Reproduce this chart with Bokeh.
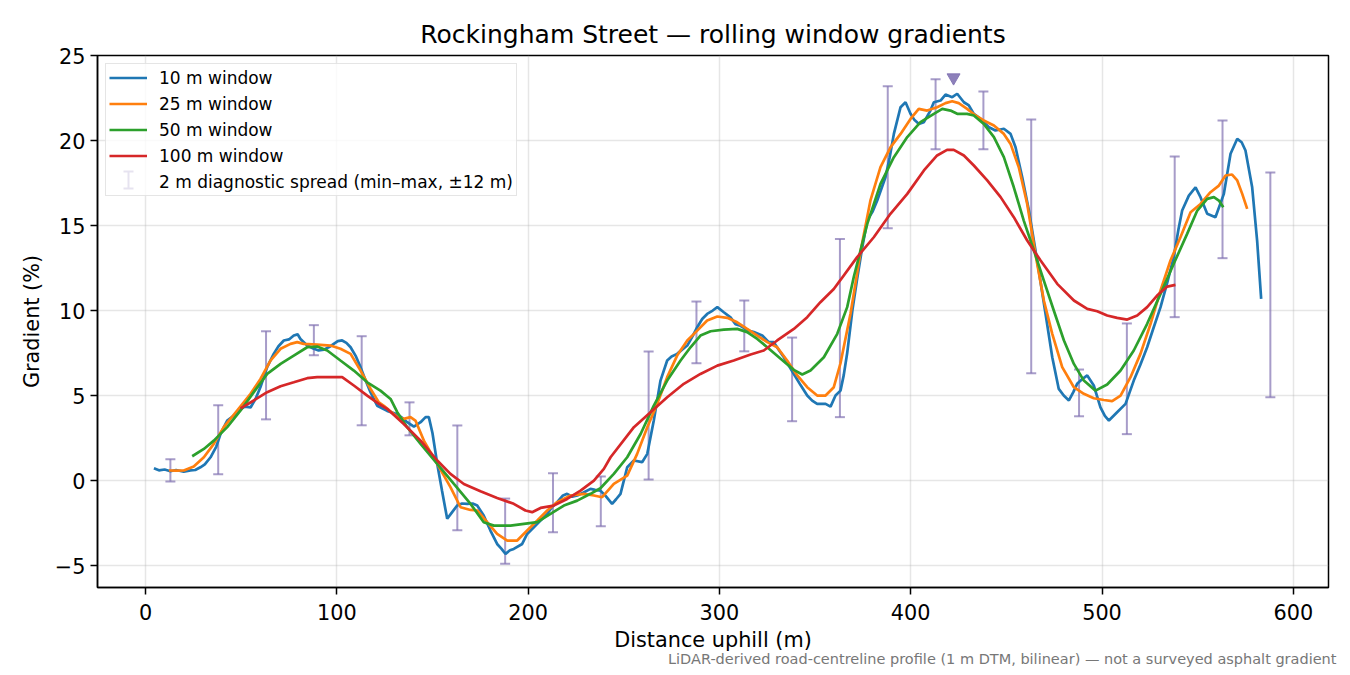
'''
Rolling window gradients for Rockingham Street, drawn with Bokeh.
'''
from bokeh.plotting import figure
from bokeh.models import (Legend, LegendItem, Title, FixedTicker, Whisker, TeeHead,
	ColumnDataSource)
from bokeh.embed import file_html
from bokeh.resources import INLINE

FONT = "DejaVu Sans"

# 10 m window (distance m, gradient %)
w10_x = [4.4, 7, 10, 13, 16, 20, 23.5, 26, 28.7, 31, 34, 37, 39.2, 42.7, 46.2, 49.7, 52, 54.9, 57.5,
         60.1, 63.6, 67, 69.5, 72.3, 75, 77.5, 79.5, 81, 84.5, 88, 90.5, 93.2, 96, 98.4, 100.5, 102.8,
         105, 107.2, 110, 112.4, 115, 117.6, 121.1, 126.3, 131.6, 134, 136.8, 140.3, 143.8, 146.4,
         148.1, 150, 152.5, 155, 157.7, 160, 162.9, 165.5, 168.2, 171, 173.4, 176.8, 180.3, 183.8,
         186, 188.2, 190.5, 192.5, 196.9, 199.5, 204.8, 210, 212.5, 215.2, 218, 220.4, 223, 225.7,
         229, 232.6, 235, 237.8, 240.5, 243.9, 246, 248.3, 251.8, 255.3, 259.6, 262.3, 265.7, 269.2,
         272.7, 275, 277.9, 280.5, 283.2, 286, 288.4, 291, 293.6, 296.5, 298.9, 302.3, 305.8, 308.4,
         311, 313.6, 316, 318, 322.4, 325.8, 328.4, 331, 333.7, 338.9, 342.5, 345.9, 348.5, 351.1,
         355.5, 358.1, 360.7, 363.3, 365, 366.8, 369.5, 372, 374.5, 377.3, 380, 382.5, 386.8, 389,
         391.2, 394.7, 397.3, 399.9, 402, 404.2, 406.9, 410.3, 412.1, 415.6, 418.2, 421.7, 424.3,
         427.8, 430.4, 433, 436.5, 440.9, 444.3, 448.7, 452.2, 454.8, 458.3, 461.8, 466.1, 470.5,
         474, 477.4, 480, 482.7, 485, 487, 490, 492.3, 495.7, 499.2, 501.5, 503.6, 507.9, 512.3,
         516.6, 520, 523.6, 527, 530.6, 534, 537.5, 540, 541.9, 545.4, 548.9, 551.5, 555, 559.3,
         563.7, 567.2, 570.7, 573, 575, 578.5, 581.1, 583.2]
w10_y = [0.72, 0.6, 0.65, 0.55, 0.62, 0.52, 0.6, 0.62, 0.78, 0.95, 1.37, 2.0, 2.74, 3.53, 3.82, 4.2,
         4.35, 4.3, 4.8, 5.5, 6.67, 7.45, 7.9, 8.24, 8.3, 8.53, 8.6, 8.33, 7.94, 7.75, 7.65, 7.7,
         7.85, 8.04, 8.2, 8.24, 8.1, 7.84, 7.3, 6.67, 5.9, 5.2, 4.4, 4.1, 3.9, 3.7, 3.43, 3.17, 3.43,
         3.73, 3.73, 2.8, 0.98, -0.6, -2.25, -1.9, -1.47, -1.35, -1.37, -1.35, -1.47, -2.06, -2.94,
         -3.73, -4.0, -4.31, -4.1, -4.02, -3.73, -3.14, -2.55, -1.96, -1.55, -1.27, -0.9, -0.78,
         -0.95, -0.88, -0.7, -0.49, -0.55, -0.59, -0.9, -1.37, -1.1, -0.78, 0.78, 1.18, 1.08, 1.57,
         3.53, 5.88, 7.06, 7.3, 7.45, 7.7, 7.94, 8.5, 9.02, 9.5, 9.8, 10.0, 10.2, 9.9, 9.6, 9.2, 9.1,
         8.92, 8.8, 8.73, 8.53, 8.14, 8.14, 7.7, 7.25, 6.27, 5.6, 5.0, 4.7, 4.51, 4.51, 4.35, 5.0,
         5.29, 6.2, 7.5, 10.0, 11.86, 13.6, 15.3, 15.8, 16.47, 17.84, 19.0, 20.39, 21.96, 22.25,
         21.57, 21.2, 20.98, 21.08, 21.76, 22.25, 22.35, 22.7, 22.55, 22.75, 22.25, 22.06, 21.57,
         21.27, 20.78, 20.59, 20.69, 20.39, 19.6, 17.84, 15.88, 12.94, 9.8, 7.25, 5.39, 5.0, 4.71,
         5.2, 5.69, 6.0, 6.18, 5.59, 4.31, 3.8, 3.53, 4.02, 4.51, 5.88, 6.8, 7.84, 9.0, 10.2, 11.6,
         13.14, 14.8, 15.88, 16.76, 17.25, 16.67, 15.69, 15.49, 16.86, 19.22, 20.1, 19.9, 19.41,
         17.25, 14.1, 10.69]

# 25 m window
w25_x = [12.2, 16, 20, 25.2, 30.5, 35.7, 40.9, 47.9, 54.9, 60.1, 65.3, 70.6, 75.8, 79.3, 82.7, 89.7,
         96.7, 101.9, 107.2, 112.4, 117.6, 122, 124.6, 131.6, 135, 138.5, 141.1, 145.5, 152.5, 159.4,
         164.7, 169.9, 173.4, 178.6, 183.8, 189.1, 194.3, 199.5, 204.8, 210, 215.2, 222.2, 229.1,
         234.4, 238.7, 244.8, 251.8, 257, 262.3, 267.5, 272.7, 277.9, 283.2, 288.4, 293.6, 298.9,
         304.1, 309.3, 314.5, 319.8, 325, 330.2, 335.4, 340.7, 345.9, 351.1, 355.5, 359.8, 363.3,
         368.5, 371, 374, 379, 384.2, 389.4, 394.7, 399.9, 404.2, 408.6, 413.8, 418.2, 421.7, 425.1,
         429.5, 433.9, 438.2, 443.5, 448.7, 452.2, 456.5, 460.9, 465.2, 469.6, 474, 479.2, 485.3,
         490.5, 495.7, 501, 505.3, 509.7, 514.9, 520.1, 525.4, 530.6, 535.8, 541, 546.3, 551.5,
         556.7, 561.1, 564.6, 568, 570.7, 573.3, 575.9]
w25_y = [0.59, 0.58, 0.59, 0.82, 1.37, 2.16, 3.14, 4.12, 5.1, 5.98, 7.06, 7.75, 8.04, 8.14, 8.04, 8.0,
         7.94, 7.75, 7.45, 6.47, 5.4, 4.6, 4.4, 3.73, 3.63, 3.73, 3.53, 2.35, 0.98, -0.39, -1.57,
         -1.73, -1.76, -2.45, -3.14, -3.53, -3.53, -2.94, -2.35, -1.76, -1.27, -0.88, -0.78, -0.88,
         -0.98, -0.2, 0.29, 1.57, 3.14, 4.51, 6.08, 7.35, 8.24, 8.82, 9.41, 9.65, 9.57, 9.31, 8.92,
         8.53, 8.14, 7.84, 7.06, 6.18, 5.49, 5.0, 5.0, 5.49, 6.9, 9.8, 11.5, 13.6, 16.5, 18.43,
         19.6, 20.39, 21.27, 21.86, 21.76, 21.96, 22.2, 22.31, 22.2, 21.86, 21.47, 21.18, 20.88,
         20.39, 19.8, 18.43, 16.27, 13.33, 10.59, 8.63, 6.67, 5.49, 5.1, 4.84, 4.74, 4.67, 5.0,
         6.08, 7.45, 9.22, 11.18, 12.94, 14.31, 15.78, 16.27, 16.96, 17.35, 17.94, 18.0, 17.65,
         16.86, 15.98]

# 50 m window
w50_x = [24.4, 30.5, 35.7, 42.7, 49.7, 56.6, 63.6, 70.6, 77.5, 84.5, 89.7, 95, 101.9, 108.9, 115.9,
         122.8, 128.1, 131.6, 136.8, 143.8, 152.5, 161.2, 169.9, 176.8, 182.1, 190.8, 197.8, 204.8,
         211.7, 218.7, 225.7, 232.6, 237.8, 244.8, 251.8, 258.8, 265.7, 272.7, 279.7, 284.9, 290.1,
         295.4, 302.3, 309.3, 314.5, 319.8, 325, 332, 338.9, 343.3, 347.6, 354.6, 361.6, 366.8,
         370.3, 377.3, 384.2, 391.2, 398.2, 405.1, 412.1, 416.5, 420.8, 424.3, 429.5, 433, 438.2,
         443.5, 448.7, 453.9, 459.1, 464.4, 469.6, 474.8, 480.1, 485.3, 490.5, 496.6, 502.7, 509.7,
         516.6, 523.6, 530.6, 537.5, 544.5, 549.8, 555, 558.5, 561.1, 563.4]
w50_y = [1.43, 1.86, 2.35, 3.14, 4.12, 5.2, 6.27, 6.86, 7.35, 7.84, 7.88, 7.65, 7.06, 6.47, 5.78,
         5.29, 4.8, 4.02, 3.14, 2.16, 0.98, -0.2, -1.37, -2.45, -2.65, -2.65, -2.55, -2.45, -1.96,
         -1.47, -1.18, -0.78, -0.45, 0.39, 1.37, 2.74, 4.41, 5.88, 7.06, 7.84, 8.53, 8.78, 8.88,
         8.92, 8.73, 8.33, 7.84, 7.16, 6.51, 6.24, 6.47, 7.25, 8.63, 10.2, 12.0, 15.1, 17.45, 19.02,
         20.2, 21.08, 21.57, 21.86, 21.76, 21.57, 21.57, 21.47, 20.98, 20.2, 19.02, 17.25, 15.29,
         13.53, 11.76, 10.0, 8.24, 6.86, 5.88, 5.29, 5.65, 6.47, 7.65, 9.22, 10.98, 12.75, 14.51,
         15.88, 16.57, 16.67, 16.47, 16.08]

# 100 m window
w100_x = [49.7, 56.6, 63.6, 70.6, 77.5, 84.5, 89.7, 96.7, 102.8, 108.9, 115.9, 122, 126.3, 135,
          143.8, 152.5, 159.4, 166.4, 175.1, 183.8, 192.5, 198.6, 202.1, 206.5, 213.4, 220.4, 227.4,
          234.4, 239.6, 243.1, 255.3, 264, 272.7, 281.4, 290.1, 298.9, 307.5, 316.3, 323.2, 330.2,
          338.9, 345.9, 352.8, 359.8, 363.3, 372, 380.7, 389.4, 398.2, 406.9, 413.8, 419, 422.5,
          427.8, 433, 440, 447, 453.9, 460.9, 467.9, 476.6, 485.3, 492.3, 497.5, 502.7, 507.9,
          513.2, 518.4, 523.6, 528.8, 534.1, 538.4]
w100_y = [4.25, 4.71, 5.2, 5.55, 5.78, 6.02, 6.08, 6.08, 6.08, 5.59, 5.0, 4.51, 4.22, 3.33, 2.35,
          1.18, 0.39, -0.2, -0.63, -1.02, -1.37, -1.76, -1.86, -1.61, -1.47, -1.08, -0.59, 0.0,
          0.69, 1.37, 3.14, 4.02, 4.9, 5.69, 6.27, 6.76, 7.06, 7.41, 7.65, 8.24, 8.92, 9.61, 10.49,
          11.27, 11.8, 13.14, 14.31, 15.69, 16.86, 18.24, 19.12, 19.45, 19.45, 19.12, 18.53, 17.65,
          16.67, 15.49, 14.12, 12.94, 11.57, 10.59, 10.1, 9.96, 9.71, 9.57, 9.47, 9.71, 10.2,
          10.88, 11.41, 11.51]

# 2 m diagnostic spread (min-max over +-12 m)
spread_x = [13, 38, 63, 88, 113, 138, 163, 188, 213, 238, 263, 288, 313, 338, 363, 388, 413, 438,
            463, 488, 513, 538, 563, 588]
spread_lo = [-0.05, 0.37, 3.6, 7.37, 3.25, 2.66, -2.92, -4.9, -3.04, -2.69, 0.06, 6.9, 7.6, 3.49,
             3.73, 14.84, 19.49, 19.49, 6.31, 3.78, 2.73, 9.61, 13.08, 4.9]
spread_hi = [1.25, 4.43, 8.78, 9.14, 8.49, 4.6, 3.24, -1.06, 0.43, 0.24, 7.59, 10.53, 10.59, 8.41,
             14.2, 23.19, 23.6, 22.88, 21.24, 6.53, 9.24, 19.06, 21.18, 18.12]

# steepest point marker
peak_x = [422.4]
peak_y = [23.7]

x_ticks = [0, 100, 200, 300, 400, 500, 600]
y_ticks = [-5, 0, 5, 10, 15, 20, 25]

SPREAD_COLOR = "#8172b2"
SPREAD_ALPHA = 0.7
LW = 2.7

p = figure(
	width=1342, height=671,
	x_range=(-25.1, 618.4), y_range=(-6.29, 25.0),
	title="Rockingham Street \u2014 rolling window gradients",
	output_backend="svg", toolbar_location=None,
	min_border_left=97, min_border_right=14, min_border_top=55, min_border_bottom=84,
)
p.title.align = "center"
p.title.text_font = FONT
p.title.text_font_size = "25px"
p.title.text_font_style = "normal"
p.title.text_color = "black"
p.title.standoff = 14

p.outline_line_color = "black"
p.outline_line_width = 1.5
p.grid.grid_line_color = "#b0b0b0"
p.grid.grid_line_alpha = 0.32
p.grid.grid_line_width = 1.5

p.xaxis.ticker = FixedTicker(ticks=x_ticks)
p.yaxis.ticker = FixedTicker(ticks=y_ticks)
p.yaxis.major_label_overrides = {-5: "\u22125"}
p.yaxis.axis_label = "Gradient (%)"
for ax in (p.xaxis, p.yaxis):
	ax.axis_label_text_font = FONT
	ax.axis_label_text_font_size = "20.8px"
	ax.axis_label_text_font_style = "normal"
	ax.axis_label_text_color = "black"
	ax.major_label_text_font = FONT
	ax.major_label_text_font_size = "20.8px"
	ax.major_label_text_color = "black"
	ax.axis_line_color = "black"
	ax.axis_line_width = 1.5
	ax.major_tick_line_width = 1.5
	ax.major_tick_out = 7
	ax.major_tick_in = 0
	ax.minor_tick_line_color = None
p.xaxis.major_label_standoff = 9
p.yaxis.major_label_standoff = 5
p.yaxis.axis_label_standoff = 8
# tiny blank x axis label: only adds a few px between tick labels and the title below
p.xaxis.axis_label = " "
p.xaxis.axis_label_text_font_size = "1px"
p.xaxis.axis_label_standoff = 3

# error bars: stem plus caps
p.segment(spread_x, spread_lo, spread_x, spread_hi, line_color=SPREAD_COLOR,
	line_alpha=SPREAD_ALPHA, line_width=2)
p.scatter(spread_x, spread_lo, marker="dash", size=10, line_color=SPREAD_COLOR,
	line_alpha=SPREAD_ALPHA, line_width=2)
p.scatter(spread_x, spread_hi, marker="dash", size=10, line_color=SPREAD_COLOR,
	line_alpha=SPREAD_ALPHA, line_width=2)
# hidden, transparent renderer: only gives the legend entry its label
spread_key = p.scatter(spread_x, spread_hi, marker="dash", size=9, line_alpha=0, fill_alpha=0)
spread_key.visible = False

r10 = p.line(w10_x, w10_y, line_color="#1f77b4", line_width=LW)
r25 = p.line(w25_x, w25_y, line_color="#ff7f0e", line_width=LW)
r50 = p.line(w50_x, w50_y, line_color="#2ca02c", line_width=LW)
r100 = p.line(w100_x, w100_y, line_color="#d62728", line_width=LW)

p.scatter(peak_x, peak_y, marker="inverted_triangle", size=13, fill_color=SPREAD_COLOR,
	line_color=SPREAD_COLOR, fill_alpha=0.9, line_alpha=0.9)

legend = Legend(items=[
	LegendItem(label="10 m window", renderers=[r10]),
	LegendItem(label="25 m window", renderers=[r25]),
	LegendItem(label="50 m window", renderers=[r50]),
	LegendItem(label="100 m window", renderers=[r100]),
	LegendItem(label="2 m diagnostic spread (min\u2013max, \u00b112 m)", renderers=[spread_key]),
], location="top_left")
legend.click_policy = "none"
legend.inactive_fill_alpha = 0
legend.margin = 8
legend.padding = 3
legend.spacing = 5
legend.glyph_width = 38
legend.glyph_height = 21
legend.label_height = 21
legend.label_standoff = 12
legend.label_text_font = FONT
legend.label_text_font_size = "17px"
legend.label_text_color = "black"
legend.border_line_color = "#cccccc"
legend.border_line_width = 1.5
legend.background_fill_alpha = 0.8
p.add_layout(legend)

# error bar symbol for the legend's last row (screen px from the frame's bottom-left)
key_src = ColumnDataSource(dict(base=[31], lower=[399], upper=[416]))
key = Whisker(source=key_src, base="base", lower="lower", upper="upper", dimension="height",
	base_units="screen", lower_units="screen", upper_units="screen",
	line_color=SPREAD_COLOR, line_alpha=1.0, line_width=2, level="overlay",
	upper_head=TeeHead(size=10, line_color=SPREAD_COLOR, line_alpha=1.0, line_width=2),
	lower_head=TeeHead(size=10, line_color=SPREAD_COLOR, line_alpha=1.0, line_width=2))
p.add_layout(key)

# x axis label and footnote as stacked titles below the axis
xlabel = Title(text="Distance uphill (m)", align="center", standoff=-7,
	text_font=FONT, text_font_size="20.8px", text_font_style="normal", text_color="black")
p.add_layout(xlabel, "below")
note = Title(
	text="LiDAR-derived road-centreline profile (1 m DTM, bilinear) \u2014 not a surveyed asphalt gradient",
	align="right", offset=-8, standoff=0,
	text_font=FONT, text_font_size="14.5px", text_font_style="normal", text_color="#777777",
)
p.add_layout(note, "below")

open("out.html", "w").write(file_html(p, INLINE))
